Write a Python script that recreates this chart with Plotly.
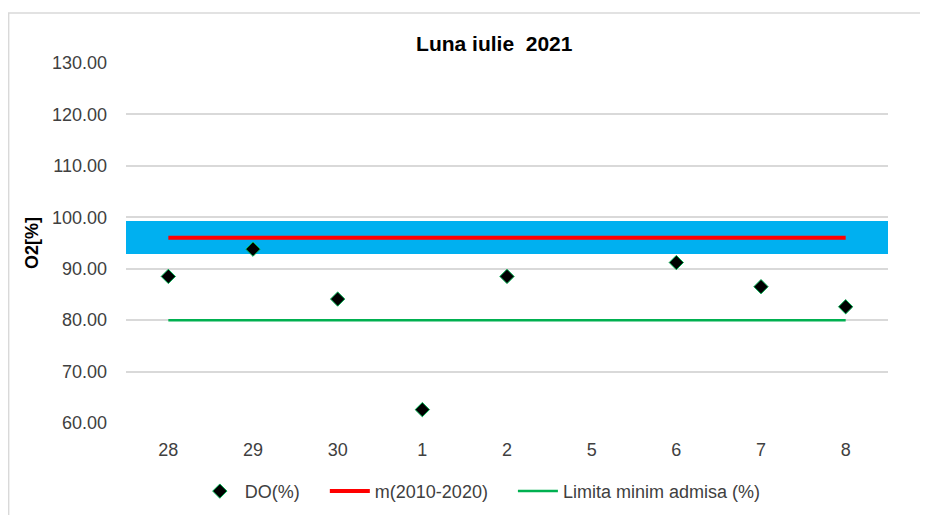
import plotly.graph_objects as go

categories = ["28", "29", "30", "1", "2", "5", "6", "7", "8"]
do_values = [88.5, 93.8, 84.1, 62.6, 88.5, None, 91.2, 86.5, 82.6]
mean_values = [96.0] * 9
limit_values = [80.0] * 9
band_low = [92.9] * 9
band_high = [99.2] * 9
y_ticks = [60, 70, 80, 90, 100, 110, 120, 130]
y_tick_labels = ["60.00", "70.00", "80.00", "90.00", "100.00", "110.00", "120.00", "130.00"]
series_names = ["DO(%)", "m(2010-2020)", "Limita minim admisa (%)"]

FONT = "Liberation Sans, Arial, sans-serif"
TXT = "#404040"
PAD = "\u00a0" * 4

x_idx = list(range(len(categories)))

fig = go.Figure()
fig.add_trace(go.Bar(
    x=x_idx, y=[h - l for h, l in zip(band_high, band_low)], base=band_low,
    width=1, marker=dict(color="#00B0F0", line=dict(width=0)),
    showlegend=False, hoverinfo="skip"))
fig.add_trace(go.Scatter(
    x=x_idx, y=do_values, mode="markers", name=series_names[0] + PAD,
    marker=dict(symbol="diamond", size=11, color="black",
                line=dict(color="#00B050", width=1))))
fig.add_trace(go.Scatter(
    x=x_idx, y=mean_values, mode="lines", name=series_names[1] + PAD,
    line=dict(color="#FF0000", width=4)))
fig.add_trace(go.Scatter(
    x=x_idx, y=limit_values, mode="lines", name=series_names[2],
    line=dict(color="#00B050", width=2.5)))

fig.update_layout(
    width=928, height=515,
    margin=dict(l=118, r=48, t=55, b=100, autoexpand=False),
    paper_bgcolor="white", plot_bgcolor="white",
    font=dict(family=FONT, size=18, color=TXT),
    title=dict(text="<b>Luna iulie  2021</b>", x=0.524, xanchor="center",
               y=0.930, yanchor="middle",
               font=dict(family=FONT, size=21, color="black")),
    showlegend=True,
    legend=dict(orientation="h", x=0.465, xanchor="center", y=-0.19,
                yanchor="middle", font=dict(family=FONT, size=18, color=TXT),
                traceorder="normal", itemwidth=40),
    bargap=0,
    shapes=[dict(type="rect", xref="paper", yref="paper",
                 x0=-0.154, x1=1.08, y0=-0.3, y1=1.139,
                 line=dict(color="#D9D9D9", width=1.5), layer="below")],
)
fig.update_xaxes(
    range=[-0.5, 8.5], tickmode="array", tickvals=x_idx, ticktext=categories,
    showgrid=False, showline=False, zeroline=False, ticks="",
    ticklabelstandoff=14,
    tickfont=dict(family=FONT, size=18, color=TXT))
fig.update_yaxes(
    range=[60, 130], tickmode="array", tickvals=y_ticks, ticktext=y_tick_labels,
    showgrid=True, gridcolor="#D9D9D9", gridwidth=1.5, zeroline=False,
    showline=False, ticks="", ticklabelstandoff=18,
    title=dict(text="<b>O2[%]</b>", standoff=8,
               font=dict(family=FONT, size=18, color="black")),
    tickfont=dict(family=FONT, size=18, color=TXT))

fig.write_html("out.html")
